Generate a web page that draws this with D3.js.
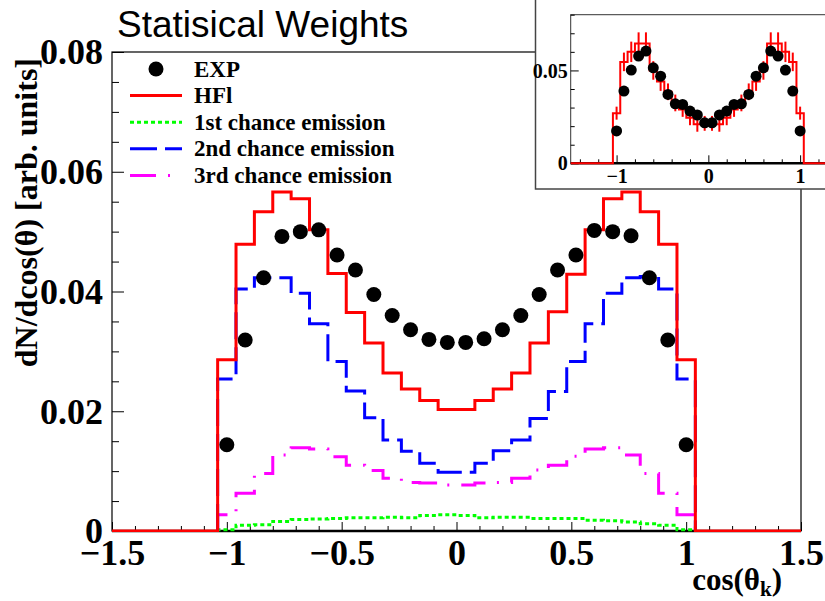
<!DOCTYPE html>
<html>
<head>
<meta charset="utf-8">
<script src="https://cdn.jsdelivr.net/npm/d3@7"></script>
<style>
  html, body { margin: 0; padding: 0; background: #fff; }
  svg { display: block; }
</style>
</head>
<body>
<svg id="chart" width="825" height="601"></svg>
<script>
// ---------------- DATA ----------------
const binCenters = [-1.00,-0.92,-0.84,-0.76,-0.68,-0.60,-0.52,-0.44,-0.36,-0.28,-0.20,-0.12,-0.04,
                     0.04, 0.12, 0.20, 0.28, 0.36, 0.44, 0.52, 0.60, 0.68, 0.76, 0.84, 0.92, 1.00];
const binWidth = 0.08;

const expValues = [0.0144,0.0319,0.0423,0.0492,0.0500,0.0503,0.0461,0.0436,0.0395,0.0360,0.0336,0.0320,0.0315,
                   0.0315,0.0321,0.0336,0.0360,0.0395,0.0436,0.0461,0.0502,0.0500,0.0493,0.0423,0.0319,0.0144];
const hflValues = [0.0286,0.0479,0.0533,0.0566,0.0555,0.0503,0.0430,0.0365,0.0314,0.0264,0.0237,0.0218,0.0203,
                   0.0203,0.0218,0.0237,0.0264,0.0314,0.0366,0.0429,0.0503,0.0555,0.0566,0.0533,0.0479,0.0286];
const chance1Values = [0.0002,0.00095,0.00106,0.0016,0.0019,0.0020,0.0021,0.0022,0.0022,0.0023,0.0022,0.0026,0.0027,
                       0.0026,0.0022,0.0023,0.0023,0.0021,0.0021,0.0021,0.0018,0.0017,0.0015,0.0012,0.00095,0.0002];
const chance2Values = [0.0254,0.0404,0.0423,0.0423,0.0397,0.0346,0.0283,0.0234,0.0189,0.0152,0.0133,0.0113,0.0098,
                       0.0098,0.0113,0.0134,0.0152,0.0188,0.0233,0.0283,0.0346,0.0397,0.0423,0.0425,0.0404,0.0254];
const chance3Values = [0.0027,0.0063,0.0096,0.0127,0.0139,0.0137,0.0124,0.0110,0.0101,0.0088,0.0081,0.0080,0.0077,
                       0.0077,0.0080,0.0081,0.0088,0.0102,0.0110,0.0125,0.0137,0.0139,0.0127,0.0096,0.0063,0.0027];

// inset
const insetExpValues = [0.0174,0.0389,0.0502,0.0577,0.0604,0.0514,0.0469,0.0371,0.0320,0.0317,0.0281,0.0260,0.0218,
                        0.0218,0.0260,0.0281,0.0317,0.0320,0.0371,0.0469,0.0514,0.0604,0.0577,0.0502,0.0389,0.0174];
const insetHflValues = [0.0270,0.0546,0.0600,0.0645,0.0645,0.0500,0.0440,0.0385,0.0325,0.0290,0.0245,0.0210,0.0215,
                        0.0215,0.0210,0.0245,0.0290,0.0325,0.0385,0.0440,0.0500,0.0645,0.0645,0.0600,0.0546,0.0270];
const insetHflErrors = [0.0035,0.0050,0.0055,0.0060,0.0060,0.0050,0.0050,0.0045,0.0045,0.0040,0.0040,0.0040,0.0040,
                        0.0040,0.0040,0.0040,0.0040,0.0045,0.0045,0.0050,0.0050,0.0060,0.0060,0.0055,0.0050,0.0035];

const xTickValues = [-1.5,-1,-0.5,0,0.5,1,1.5];
const xTickLabels = ["\u22121.5","\u22121","\u22120.5","0","0.5","1","1.5"];
const yTickValues = [0,0.02,0.04,0.06,0.08];
const yTickLabels = ["0","0.02","0.04","0.06","0.08"];
const insetXTickValues = [-1,0,1];
const insetXTickLabels = ["\u22121","0","1"];
const insetYTickValues = [0,0.05];
const insetYTickLabels = ["0","0.05"];

const legendItems = [
  {label:"EXP", type:"dot"},
  {label:"HFl", type:"line", color:"#ff0000", dash:null},
  {label:"1st chance emission", type:"line", color:"#00ff00", dash:"4,3"},
  {label:"2nd chance emission", type:"line", color:"#0000ff", dash:"27,8"},
  {label:"3rd chance emission", type:"line", color:"#ff00ff", dash:"26,12,2,12"}
];

// ---------------- DRAW ----------------
const svg = d3.select("#chart");
const serif = '"Liberation Serif", "Times New Roman", serif';

const x = d3.scaleLinear().domain([-1.5,1.5]).range([112,801]);
const y = d3.scaleLinear().domain([0,0.08]).range([531,52]);

function stepPoints(centers, vals, extendFrom, extendTo) {
  const pts = [];
  if (extendFrom !== undefined) pts.push([extendFrom, 0]);
  pts.push([centers[0] - binWidth/2, 0]);
  centers.forEach((c,i) => {
    pts.push([c - binWidth/2, vals[i]]);
    pts.push([c + binWidth/2, vals[i]]);
  });
  pts.push([centers[centers.length-1] + binWidth/2, 0]);
  if (extendTo !== undefined) pts.push([extendTo, 0]);
  return pts;
}

svg.append("defs").append("clipPath").attr("id","mainclip")
  .append("rect").attr("x",112).attr("y",52).attr("width",689).attr("height",480);

const main = svg.append("g");

// frame
main.append("rect").attr("x",112).attr("y",52).attr("width",689).attr("height",479)
  .attr("fill","none").attr("stroke","#000").attr("stroke-width",1.2);

// x ticks
const xMinor = d3.range(-1.4, 1.41, 0.1).filter(v => Math.abs(v*2 - Math.round(v*2)) > 1e-6);
main.append("g").attr("transform","translate(0,531)")
  .call(d3.axisBottom(x).tickValues(xMinor).tickSize(-5).tickFormat(""))
  .call(g => g.select(".domain").remove())
  .selectAll("line").attr("stroke","#000").attr("stroke-width",1);
const xAx = main.append("g").attr("transform","translate(0,531)")
  .call(d3.axisBottom(x).tickValues(xTickValues).tickSize(-9).tickPadding(6)
        .tickFormat((d,i) => xTickLabels[i]));
xAx.select(".domain").remove();
xAx.selectAll("line").attr("stroke","#000").attr("stroke-width",1);
xAx.selectAll("text").attr("font-family",serif).attr("font-weight","bold")
  .attr("font-size",36).attr("fill","#000").attr("dy",null).attr("y",34);

// y ticks
const yMinor = d3.range(0.005, 0.08, 0.005).filter(v => Math.abs(v/0.02 - Math.round(v/0.02)) > 1e-6);
main.append("g").attr("transform","translate(112,0)")
  .call(d3.axisLeft(y).tickValues(yMinor).tickSize(-7).tickFormat(""))
  .call(g => g.select(".domain").remove())
  .selectAll("line").attr("stroke","#000").attr("stroke-width",1);
const yAx = main.append("g").attr("transform","translate(112,0)")
  .call(d3.axisLeft(y).tickValues(yTickValues).tickSize(-12).tickPadding(9)
        .tickFormat((d,i) => yTickLabels[i]));
yAx.select(".domain").remove();
yAx.selectAll("line").attr("stroke","#000").attr("stroke-width",1);
yAx.selectAll("text").attr("font-family",serif).attr("font-weight","bold")
  .attr("font-size",36).attr("fill","#000").attr("dy","0.33em").attr("x",-9);

// bottom axis line
main.append("line").attr("x1",112).attr("x2",801).attr("y1",531).attr("y2",531)
  .attr("stroke","#000").attr("stroke-width",2.5);

const line = d3.line().x(d => x(d[0])).y(d => y(d[1]));
const plot = main.append("g").attr("clip-path","url(#mainclip)");

plot.append("path").datum(stepPoints(binCenters, chance1Values))
  .attr("d",line).attr("fill","none").attr("stroke","#00ff00").attr("stroke-width",3)
  .attr("stroke-dasharray","4,3");
plot.append("path").datum(stepPoints(binCenters, chance3Values))
  .attr("d",line).attr("fill","none").attr("stroke","#ff00ff").attr("stroke-width",3)
  .attr("stroke-dasharray","26,12,2,12");
plot.append("path").datum(stepPoints(binCenters, chance2Values))
  .attr("d",line).attr("fill","none").attr("stroke","#0000ff").attr("stroke-width",3)
  .attr("stroke-dasharray","27,8");
plot.append("path").datum(stepPoints(binCenters, hflValues, -1.5, 1.5))
  .attr("d",line).attr("fill","none").attr("stroke","#ff0000").attr("stroke-width",3);

plot.selectAll("circle.exp").data(binCenters).join("circle").attr("class","exp")
  .attr("cx", d => x(d)).attr("cy", (d,i) => y(expValues[i])).attr("r",7.5).attr("fill","#000");

// axis titles
svg.append("text").attr("transform","translate(37,58) rotate(-90)")
  .attr("text-anchor","end").attr("font-family",serif).attr("font-weight","bold")
  .attr("font-size",32).text("dN/dcos(\u03b8) [arb. units]");
const xt = svg.append("text").attr("x",782).attr("y",590).attr("text-anchor","end")
  .attr("font-family",serif).attr("font-weight","bold").attr("font-size",31);
xt.append("tspan").text("cos(\u03b8");
xt.append("tspan").attr("font-size",21).attr("dy",6).text("k");
xt.append("tspan").attr("dy",-6).text(")");

// title
svg.append("text").attr("x",117).attr("y",37).attr("font-family","'Liberation Sans', Arial, sans-serif")
  .attr("font-size",37).attr("fill","#000").text("Statisical Weights");

// legend
const lg = svg.append("g");
legendItems.forEach((it,i) => {
  const cy = 69 + i*26.6;
  if (it.type === "dot") {
    lg.append("circle").attr("cx",156).attr("cy",cy).attr("r",7.5).attr("fill","#000");
  } else {
    lg.append("line").attr("x1",130).attr("x2",182).attr("y1",cy).attr("y2",cy)
      .attr("stroke",it.color).attr("stroke-width",3).attr("stroke-dasharray",it.dash);
  }
  lg.append("text").attr("x",194).attr("y",cy+7.5).attr("font-family",serif).attr("font-weight","bold")
    .attr("font-size",23).text(it.label);
});

// ---------------- INSET ----------------
const ins = svg.append("g");
ins.append("rect").attr("x",535.5).attr("y",-5).attr("width",300).attr("height",194)
  .attr("fill","#fff").attr("stroke","#444").attr("stroke-width",1.5);
const xi = d3.scaleLinear().domain([-1.5,1.5]).range([570.7,846]);
const yi = d3.scaleLinear().domain([0,0.08]).range([163.3,14.7]);
ins.append("rect").attr("x",570.7).attr("y",14.7).attr("width",300).attr("height",148.6)
  .attr("fill","none").attr("stroke","#333").attr("stroke-width",1);

const xiMinor = d3.range(-1.4, 1.41, 0.2).filter(v => Math.abs(v - Math.round(v)) > 1e-6);
ins.append("g").attr("transform","translate(0,163.3)")
  .call(d3.axisBottom(xi).tickValues(xiMinor).tickSize(-4).tickFormat(""))
  .call(g => g.select(".domain").remove())
  .selectAll("line").attr("stroke","#000");
const xiAx = ins.append("g").attr("transform","translate(0,163.3)")
  .call(d3.axisBottom(xi).tickValues(insetXTickValues).tickSize(-8).tickFormat((d,i)=>insetXTickLabels[i]));
xiAx.select(".domain").remove();
xiAx.selectAll("line").attr("stroke","#000");
xiAx.selectAll("text").attr("font-family",serif).attr("font-weight","bold").attr("font-size",20)
  .attr("fill","#000").attr("dy",null).attr("y",20);

const yiMinor = d3.range(0.01, 0.08, 0.01).filter(v => Math.abs(v - 0.05) > 1e-6);
ins.append("g").attr("transform","translate(570.7,0)")
  .call(d3.axisLeft(yi).tickValues(yiMinor).tickSize(-4).tickFormat(""))
  .call(g => g.select(".domain").remove())
  .selectAll("line").attr("stroke","#000");
const yiAx = ins.append("g").attr("transform","translate(570.7,0)")
  .call(d3.axisLeft(yi).tickValues(insetYTickValues).tickSize(-8).tickPadding(3)
        .tickFormat((d,i)=>insetYTickLabels[i]));
yiAx.select(".domain").remove();
yiAx.selectAll("line").attr("stroke","#000");
yiAx.selectAll("text").attr("font-family",serif).attr("font-weight","bold").attr("font-size",20)
  .attr("fill","#000").attr("dy","0.33em").attr("x",-3);

ins.append("line").attr("x1",570.7).attr("x2",825).attr("y1",163.3).attr("y2",163.3)
  .attr("stroke","#000").attr("stroke-width",2.5);

const linei = d3.line().x(d => xi(d[0])).y(d => yi(d[1]));
ins.append("path").datum(stepPoints(binCenters, insetHflValues, -1.5, 1.5))
  .attr("d",linei).attr("fill","none").attr("stroke","#ff0000").attr("stroke-width",2);
ins.selectAll("line.err").data(binCenters).join("line").attr("class","err")
  .attr("x1",d=>xi(d)).attr("x2",d=>xi(d))
  .attr("y1",(d,i)=>yi(insetHflValues[i]-insetHflErrors[i]))
  .attr("y2",(d,i)=>yi(insetHflValues[i]+insetHflErrors[i]))
  .attr("stroke","#ff0000").attr("stroke-width",2);
ins.selectAll("circle.iexp").data(binCenters).join("circle").attr("class","iexp")
  .attr("cx",d=>xi(d)).attr("cy",(d,i)=>yi(insetExpValues[i])).attr("r",5.5).attr("fill","#000");
</script>
</body>
</html>
